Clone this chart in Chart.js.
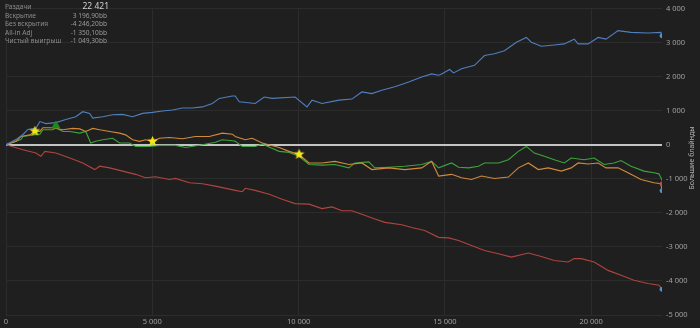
<!DOCTYPE html>
<html><head><meta charset="utf-8">
<style>html,body{margin:0;padding:0;background:#1f1f1f;overflow:hidden}#wrap{width:700px;height:328px;position:relative}</style>
<script src="https://cdn.jsdelivr.net/npm/chart.js@4.4.1/dist/chart.umd.min.js"></script>
</head><body><div id="wrap"><canvas id="c"></canvas></div>
<script>
// ---- data ----
const xTicks = [0, 5000, 10000, 15000, 20000];
const yMin = -5000, yMax = 4000, yStep = 1000;
const totalHands = 22421;
const axisTitle = 'Большие блайнды';
const summaryLabels = ['Раздачи', 'Вскрытие', 'Без вскрытия', 'All-in Adj', 'Чистый выигрыш'];
const summaryValues = ['22 421', '3 196,90bb', '-4 246,20bb', '-1 350,10bb', '-1 049,30bb'];

const showdownHands = [0,341,579,750,1022,1158,1363,1704,2044,2385,2623,2862,2964,3305,3645,3986,4327,4668,5008,5349,5690,6030,6371,6712,7052,7291,7734,7836,7972,8518,8824,9097,9880,10289,10460,10800,11379,11822,12163,12504,12844,13287,13764,14207,14548,14786,14889,15161,15297,15570,16013,16354,16694,17035,17444,17785,17955,18296,18739,19079,19420,19556,19897,20238,20510,20919,21362,21941,22385,22421];
const showdownValues = [0,150,300,450,480,680,620,650,740,820,970,920,780,820,880,890,820,920,950,990,1020,1080,1080,1110,1210,1360,1430,1430,1260,1210,1400,1360,1400,1110,1310,1210,1310,1340,1550,1500,1600,1700,1840,1990,2080,2040,2080,2210,2110,2230,2330,2620,2670,2760,3010,3150,3010,2890,2930,2960,3100,2960,2960,3150,3100,3350,3300,3280,3300,3196.9];

const allinHands = [0,341,511,818,988,1158,1260,1601,1942,2283,2521,2726,2964,3203,3543,3884,4088,4327,4565,4770,5008,5247,5587,6030,6473,6950,7393,7734,7836,8177,8415,8756,9335,9676,10017,10357,10800,11243,11720,12163,12504,13083,13628,14207,14548,14786,15229,15570,15911,16251,16694,17171,17512,17853,18194,18534,18977,19318,19556,19897,20238,20510,20919,21260,21703,22146,22385,22421];
const allinValues = [0,100,240,290,400,390,500,500,440,480,465,390,480,440,390,340,290,145,100,145,100,190,210,175,240,240,340,310,240,145,190,50,-80,-195,-290,-535,-535,-490,-580,-535,-730,-680,-730,-680,-490,-920,-870,-970,-1020,-920,-990,-950,-680,-535,-730,-680,-775,-680,-535,-565,-535,-680,-680,-825,-1020,-1115,-1145,-1350.1];

const netHands = [0,511,579,920,1158,1260,1601,1704,1942,2180,2521,2726,2896,3066,3305,3645,3884,4225,4429,4906,5247,5792,6133,6712,7155,7393,7734,7836,8075,8518,8756,9335,9676,10017,10357,10800,11243,11720,11925,12401,12606,13083,13628,14207,14548,14786,15229,15468,15809,16149,16354,16831,17171,17512,17785,18057,18398,18739,19079,19318,19761,20101,20442,20783,21021,21362,21805,22146,22316,22385,22421];
const netValues = [0,150,240,290,310,440,440,500,390,390,340,390,50,100,145,190,50,50,-50,-50,-20,-20,-80,0,75,145,115,100,-50,-50,20,-195,-225,-340,-580,-600,-580,-680,-535,-505,-680,-660,-630,-580,-490,-680,-535,-660,-680,-630,-535,-535,-440,-195,-50,-245,-340,-440,-535,-390,-440,-390,-580,-535,-465,-630,-775,-825,-855,-970,-1049.3];

const nonShowdownHands = [0,579,1022,1192,1329,1704,2180,2623,3032,3203,3543,3986,4429,4770,5111,5587,5792,6269,6712,7155,7836,8075,8177,8518,8994,9437,9880,10357,10800,11141,11482,11822,12163,12606,12947,13526,13866,14309,14786,15127,15468,15911,16354,16831,17273,17853,18296,18739,19216,19420,19659,20101,20578,21021,21464,21941,22316,22421];
const nonShowdownValues = [0,-145,-245,-340,-195,-245,-390,-535,-730,-630,-680,-775,-870,-970,-940,-1020,-990,-1115,-1145,-1215,-1340,-1380,-1280,-1340,-1455,-1600,-1730,-1745,-1875,-1825,-1940,-1940,-2040,-2180,-2280,-2350,-2430,-2520,-2720,-2735,-2815,-2960,-3105,-3200,-3300,-3180,-3280,-3400,-3445,-3345,-3345,-3445,-3690,-3830,-3980,-4075,-4125,-4246.2];

const starHands = [988, 5008, 10017];
const starValues = [400, 100, -280];
const triangleHands = [1704];
const triangleValues = [560];
const endHands = [22421, 22421, 22421, 22421];
const endValues = [3196.9, -1150, -1350.1, -4246.2];

// ---- helpers ----
const fmt = v => (v < 0 ? '-' : '') + Math.abs(v).toString().replace(/\B(?=(\d{3})+(?!\d))/g, ' ');
const pts = (h, v) => h.map((x, i) => ({x: x, y: v[i]}));
const FONT = '"Noto Sans", "Open Sans", sans-serif';

function starImage(size, color) {
  const c = document.createElement('canvas');
  c.width = size; c.height = size;
  const g = c.getContext('2d');
  const cx = size / 2, cy = size / 2, R = size / 2, r = R * 0.45;
  g.beginPath();
  for (let i = 0; i < 10; i++) {
    const a = -Math.PI / 2 + i * Math.PI / 5;
    const rr = i % 2 === 0 ? R : r;
    g.lineTo(cx + rr * Math.cos(a), cy + rr * Math.sin(a));
  }
  g.closePath();
  g.fillStyle = color; g.fill();
  return c;
}

const bgPlugin = {
  id: 'bg',
  beforeDraw(chart) {
    const ctx = chart.ctx;
    ctx.save(); ctx.fillStyle = '#1f1f1f';
    ctx.fillRect(0, 0, chart.width, chart.height); ctx.restore();
  }
};

const textPlugin = {
  id: 'texts',
  afterDraw(chart) {
    const ctx = chart.ctx;
    ctx.save();
    ctx.textBaseline = 'middle';
    const rows = [7, 16, 24.5, 33, 41.5];
    summaryLabels.forEach((lab, i) => {
      ctx.font = '6.6px ' + FONT;
      ctx.fillStyle = '#8c8c8c';
      ctx.textAlign = 'left';
      ctx.fillText(lab, 5, rows[i]);
      ctx.textAlign = 'right';
      if (i === 0) { ctx.font = '8.5px ' + FONT; ctx.fillStyle = '#d0d0d0'; ctx.fillText(summaryValues[i], 109, rows[i]); }
      else { ctx.fillStyle = '#9a9a9a'; ctx.fillText(summaryValues[i], 107, rows[i]); }
    });
    ctx.translate(692, 158);
    ctx.rotate(-Math.PI / 2);
    ctx.textAlign = 'center';
    ctx.font = '7px ' + FONT;
    ctx.fillStyle = '#b5b5b5';
    ctx.fillText(axisTitle, 0, 0);
    ctx.restore();
  }
};

const lineDs = (label, h, v, color) => ({
  type: 'line', label, data: pts(h, v), borderColor: color, borderWidth: 1.1,
  pointRadius: 0, tension: 0, fill: false
});

new Chart(document.getElementById('c'), {
  data: {
    datasets: [
      {type: 'scatter', label: 'stars', data: pts(starHands, starValues), pointStyle: starImage(11, '#f5e61b'), pointRadius: 5},
      {type: 'scatter', label: 'tri', data: pts(triangleHands, triangleValues), pointStyle: 'triangle', pointRadius: 4.5, backgroundColor: '#1d8a1d', borderColor: '#1d8a1d'},
      {type: 'scatter', label: 'ends', data: pts(endHands, endValues), pointStyle: 'circle', pointRadius: 2,
        backgroundColor: ['#5b8fd0', '#d04545', '#5b8fd0', '#5b8fd0'], borderColor: ['#5b8fd0', '#d04545', '#5b8fd0', '#5b8fd0'], borderWidth: 1},
      lineDs('Вскрытие', showdownHands, showdownValues, '#4f7fbe'),
      lineDs('Без вскрытия', nonShowdownHands, nonShowdownValues, '#b0443e'),
      lineDs('All-in Adj', allinHands, allinValues, '#d08a3a'),
      lineDs('Чистый выигрыш', netHands, netValues, '#3ea33e')
    ]
  },
  options: {
    responsive: true, maintainAspectRatio: false, animation: false,
    layout: {padding: {top: 6, left: 3, right: 0, bottom: 0}},
    plugins: {legend: {display: false}, tooltip: {enabled: false}},
    scales: {
      x: {
        type: 'linear', min: 0, max: totalHands,
        afterBuildTicks: s => { s.ticks = xTicks.map(v => ({value: v})); },
        afterFit: s => { s.height = 13; },
        ticks: {autoSkip: false, maxRotation: 0, padding: 2, color: '#a0a0a0',
          font: {size: 7.5, family: FONT}, callback: v => fmt(v)},
        grid: {color: '#2c2c2c', lineWidth: 1, drawTicks: false},
        border: {display: false}
      },
      y: {
        position: 'right', min: yMin, max: yMax,
        afterFit: s => { s.width = 38; },
        ticks: {stepSize: yStep, padding: 4, color: '#a0a0a0',
          font: {size: 7.5, family: FONT}, callback: v => fmt(v)},
        grid: {color: c => c.tick && c.tick.value === 0 ? '#c4c4c4' : '#2c2c2c',
               lineWidth: c => c.tick && c.tick.value === 0 ? 2 : 1, drawTicks: false},
        border: {display: false}
      }
    }
  },
  plugins: [bgPlugin, textPlugin]
});
</script></body></html>
